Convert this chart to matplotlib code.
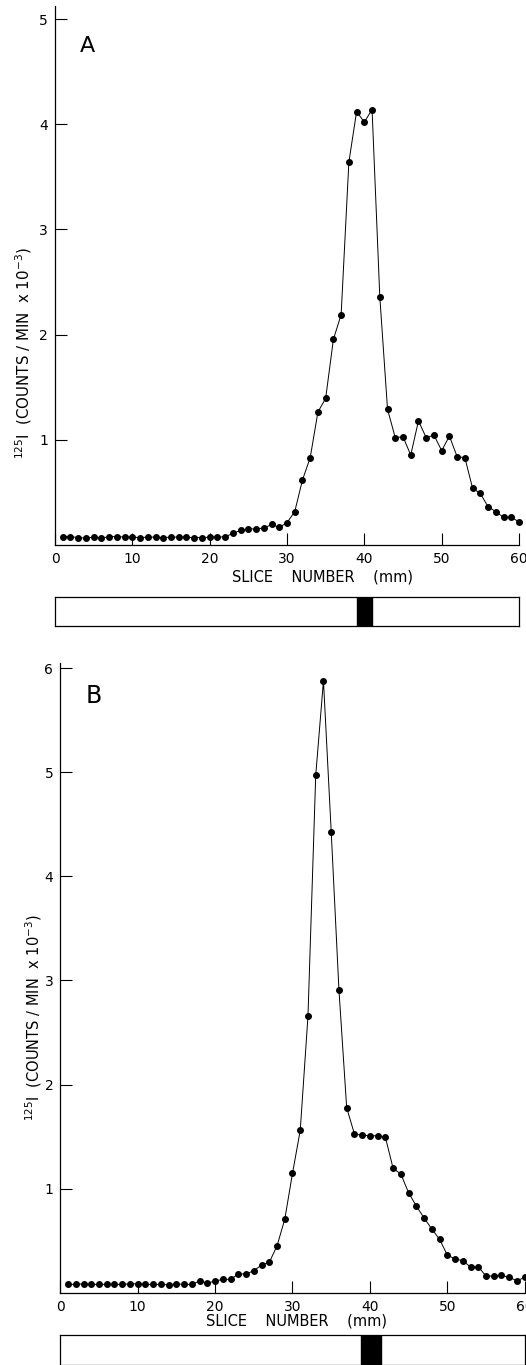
import numpy as np
import matplotlib
matplotlib.use('Agg')
from matplotlib import pyplot as plt

slices = np.arange(1, 61)

# 125I counts/min x 10^-3, panel A
counts_a = [0.08, 0.08, 0.07, 0.065, 0.075, 0.065, 0.08, 0.08, 0.075, 0.075,
            0.07, 0.075, 0.075, 0.07, 0.075, 0.075, 0.075, 0.07, 0.07, 0.075,
            0.075, 0.078, 0.11, 0.14, 0.15, 0.155, 0.16, 0.195, 0.167, 0.212,
            0.317, 0.618, 0.83, 1.265, 1.394, 1.955, 2.19, 3.64, 4.12, 4.02,
            4.14, 2.36, 1.29, 1.02, 1.03, 0.855, 1.18, 1.02, 1.045, 0.897,
            1.035, 0.84, 0.83, 0.539, 0.49, 0.364, 0.317, 0.263, 0.263, 0.22]

# panel B
counts_b = [0.08, 0.08, 0.085, 0.08, 0.08, 0.08, 0.08, 0.08, 0.085, 0.085,
            0.08, 0.08, 0.08, 0.075, 0.085, 0.08, 0.08, 0.112, 0.093, 0.112,
            0.128, 0.128, 0.18, 0.18, 0.211, 0.266, 0.292, 0.45, 0.705, 1.147,
            1.56, 2.658, 4.97, 5.88, 4.43, 2.91, 1.777, 1.525, 1.512, 1.508,
            1.508, 1.493, 1.195, 1.14, 0.96, 0.833, 0.718, 0.612, 0.513, 0.362,
            0.324, 0.308, 0.247, 0.25, 0.16, 0.16, 0.167, 0.147, 0.115, 0.147]

band_a = (39, 41)
band_b = (38.8, 41.4)

xticks = [0, 10, 20, 30, 40, 50, 60]
xticklabels = ['0', '10', '20', '30', '40', '50', '60']

W, H = 526, 1365
fig = plt.figure(figsize=(W/100, H/100), dpi=100)

ylab = r'$^{125}$I  (COUNTS / MIN  x 10$^{-3}$)'


def panel(rect, y, ytop, yt):
    ax = fig.add_axes(rect)
    ax.plot(slices, y, '-', color='k', lw=0.7, marker='o', ms=4,
            clip_on=False)
    ax.set_xlim(0, 60)
    ax.set_ylim(0, ytop)
    ax.set_xticks(xticks)
    ax.set_xticklabels(xticklabels)
    ax.set_yticks(yt)
    ax.set_yticklabels([str(v) for v in yt])
    ax.spines['top'].set_visible(False)
    ax.spines['right'].set_visible(False)
    ax.spines['left'].set_linewidth(0.9)
    ax.spines['bottom'].set_linewidth(0.9)
    ax.tick_params(direction='in', length=8.5, width=0.8, labelsize=10, pad=5)
    return ax


def bar(rect, band):
    ax = fig.add_axes(rect)
    ax.set_xlim(0, 60)
    ax.set_ylim(0, 1)
    ax.axvspan(band[0], band[1], color='k')
    ax.set_xticks([])
    ax.set_yticks([])
    for s in ax.spines.values():
        s.set_linewidth(0.9)
    return ax


# panel A
axA = panel([55/W, 1-545/H, 464/W, 539/H], counts_a, 5.124, [1, 2, 3, 4, 5])
fig.text(87/W, 1-46/H, 'A', fontsize=16, ha='center', va='center')
fig.text(323/W, 1-577/H, 'SLICE    NUMBER    (mm)', fontsize=10.5,
         ha='center', va='center')
fig.text(24/W, 1-353/H, ylab, fontsize=10.8, rotation=90,
         ha='center', va='center')
bar([55/W, 1-625.7/H, 464/W, 29/H], band_a)

# panel B
axB = panel([60.3/W, 1-1292.7/H, 464.4/W, 629.7/H], counts_b, 6.05,
            [1, 2, 3, 4, 5, 6])
fig.text(94/W, 1-696/H, 'B', fontsize=17, ha='center', va='center')
fig.text(296/W, 1-1321/H, 'SLICE    NUMBER    (mm)', fontsize=10.5,
         ha='center', va='center')
fig.text(34/W, 1-1018/H, ylab, fontsize=10.5, rotation=90,
         ha='center', va='center')
bar([60.3/W, 0.5/H, 464.4/W, 29.5/H], band_b)

fig.savefig('out.png', dpi=100)
